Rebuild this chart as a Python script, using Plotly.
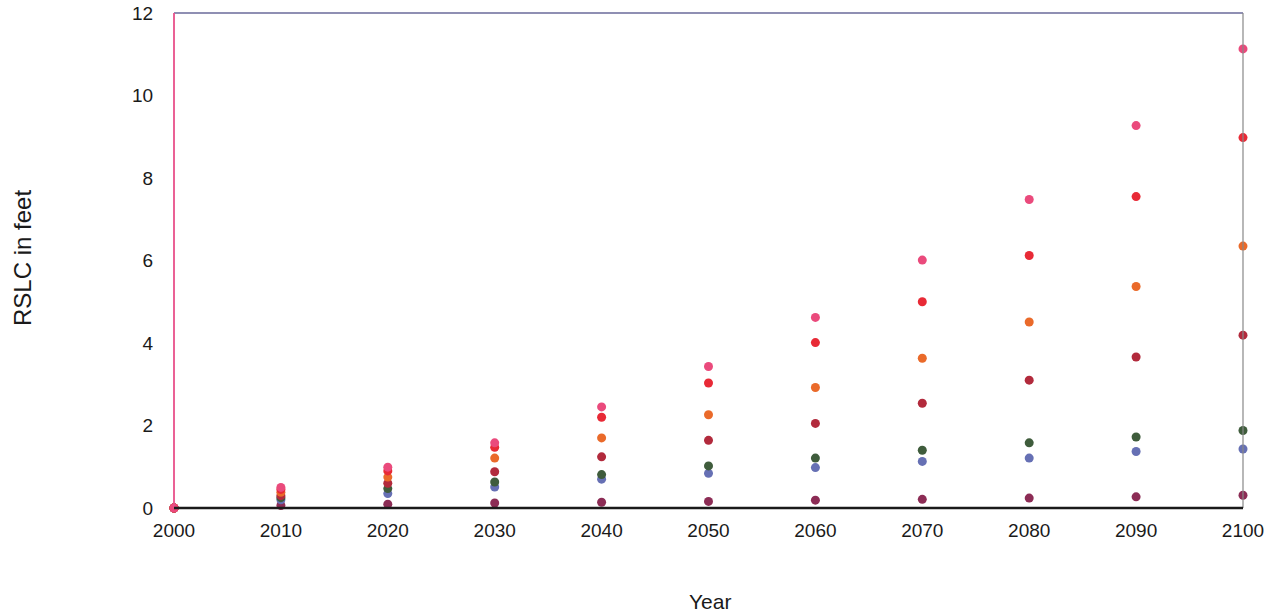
import plotly.graph_objects as go

years = [2000, 2010, 2020, 2030, 2040, 2050, 2060, 2070, 2080, 2090, 2100]

s_pink = [0, 0.50, 0.99, 1.58, 2.45, 3.43, 4.62, 6.01, 7.48, 9.27, 11.13]
s_red = [0, 0.45, 0.90, 1.47, 2.20, 3.03, 4.01, 5.00, 6.12, 7.55, 8.98]
s_orange = [0, 0.38, 0.75, 1.21, 1.70, 2.26, 2.92, 3.63, 4.51, 5.37, 6.35]
s_darkred = [0, 0.30, 0.60, 0.88, 1.24, 1.64, 2.05, 2.54, 3.10, 3.66, 4.19]
s_green = [0, 0.25, 0.47, 0.63, 0.81, 1.02, 1.21, 1.40, 1.58, 1.72, 1.88]
s_blue = [0, 0.20, 0.35, 0.51, 0.70, 0.84, 0.98, 1.13, 1.21, 1.37, 1.43]
s_maroon = [0, 0.06, 0.09, 0.12, 0.14, 0.16, 0.19, 0.21, 0.24, 0.27, 0.31]

series = [
    ("maroon", s_maroon, "#8c2c55"),
    ("blue", s_blue, "#6670b4"),
    ("green", s_green, "#3f5c3c"),
    ("darkred", s_darkred, "#b22a3c"),
    ("orange", s_orange, "#ea6a2a"),
    ("red", s_red, "#e82a36"),
    ("pink", s_pink, "#ea4a7c"),
]

fig = go.Figure()
for name, vals, col in series:
    fig.add_trace(go.Scatter(x=years, y=vals, mode="markers", name=name,
                             marker=dict(size=9, color=col),
                             cliponaxis=False, showlegend=False))

font = "Liberation Sans, Arial, sans-serif"
fig.update_layout(
    width=1272, height=614,
    margin=dict(l=174, r=29, t=13, b=106),
    paper_bgcolor="white", plot_bgcolor="white",
    xaxis=dict(range=[2000, 2100], tickmode="array", tickvals=years,
               ticktext=[str(y) for y in years], automargin=False,
               ticklabeloverflow="allow",
               showgrid=False, zeroline=False, showline=False,
               ticks="outside", ticklen=5, tickcolor="rgba(255,255,255,0)",
               tickfont=dict(family=font, size=19, color="#1a1a1a")),
    yaxis=dict(range=[0, 12], tickmode="array", tickvals=[0, 2, 4, 6, 8, 10, 12],
               automargin=False, ticklabeloverflow="allow",
               showgrid=False, zeroline=False, showline=False,
               ticks="outside", ticklen=16, tickcolor="rgba(255,255,255,0)",
               tickfont=dict(family=font, size=19, color="#1a1a1a")),
    shapes=[
        dict(type="line", xref="paper", yref="paper", x0=0, x1=1, y0=1, y1=1,
             line=dict(color="#6a6a9a", width=1.5)),
        dict(type="line", xref="paper", yref="paper", x0=1, x1=1, y0=0, y1=1,
             line=dict(color="#888888", width=1.2)),
        dict(type="line", xref="paper", yref="paper", x0=0, x1=0, y0=0, y1=1,
             line=dict(color="#e8508a", width=1.8)),
        dict(type="line", xref="paper", yref="paper", x0=0, x1=1, y0=0, y1=0,
             line=dict(color="#1a1a1a", width=2.5)),
    ],
    annotations=[
        dict(text="RSLC in feet", xref="paper", yref="paper", x=-0.1422, y=0.505,
             textangle=-90, showarrow=False, xanchor="center", yanchor="middle",
             font=dict(family=font, size=24, color="#1a1a1a")),
        dict(text="Year", xref="paper", yref="paper", x=0.5014, y=-0.188,
             showarrow=False, xanchor="center", yanchor="middle",
             font=dict(family=font, size=21, color="#1a1a1a")),
    ],
)

fig.write_html("out.html", config={"displayModeBar": False},
               post_script="document.body.style.margin='0';document.body.style.overflow='hidden';")
